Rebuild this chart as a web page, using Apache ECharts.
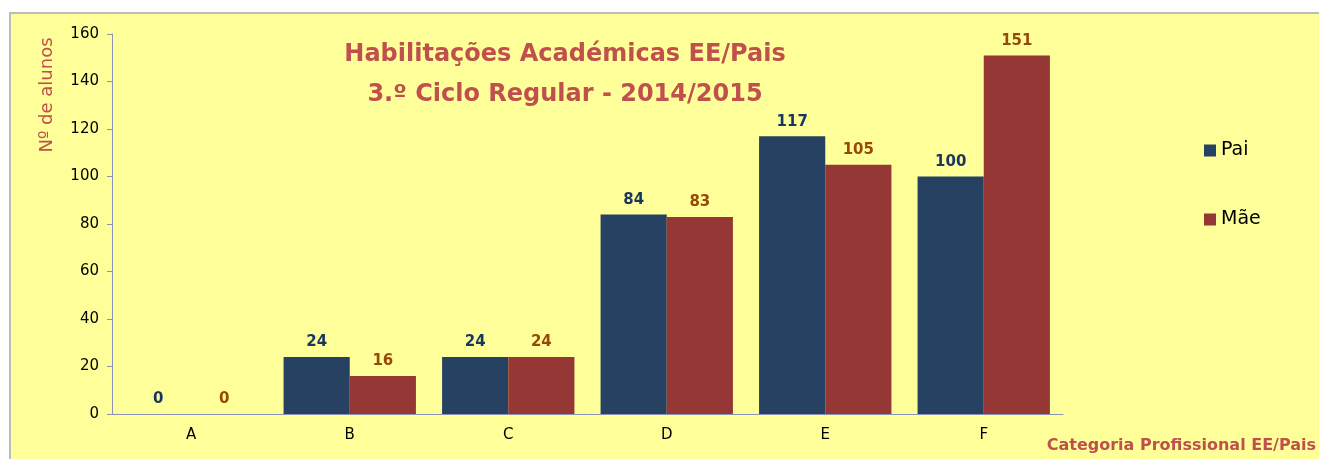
<!DOCTYPE html>
<html>
<head>
<meta charset="utf-8">
<script src="https://cdn.jsdelivr.net/npm/echarts@6/dist/echarts.min.js"></script>
<style>
  html, body { margin: 0; padding: 0; background: #fff; }
  #chart { width: 1319px; height: 459px; }
</style>
</head>
<body>
<div id="chart"></div>
<script>
const categories = ['A', 'B', 'C', 'D', 'E', 'F']
const paiValues = [0, 24, 24, 84, 117, 100]
const maeValues = [0, 16, 24, 83, 105, 151]
const seriesNames = ['Pai', 'Mãe']

const font = 'Tahoma, "DejaVu Sans", sans-serif'
const red = '#c0504d'

const chart = echarts.init(document.getElementById('chart'))
chart.setOption({
  backgroundColor: '#fff',
  textStyle: { fontFamily: font },
  graphic: [
    {
      type: 'rect',
      z: -10,
      shape: { x: 10, y: 13, width: 1320, height: 460 },
      style: { fill: '#ffff99', stroke: '#bcbcbc', lineWidth: 2 }
    },
    {
      // y axis title sits near the top, not centred on the axis
      type: 'text',
      x: 47,
      y: 95,
      rotation: Math.PI / 2,
      style: {
        text: 'Nº de alunos',
        fill: red,
        font: '18px ' + font,
        align: 'center',
        verticalAlign: 'middle'
      }
    }
  ],
  title: {
    text: 'Habilitações Académicas EE/Pais\n3.º Ciclo Regular - 2014/2015',
    left: 560,
    top: 30,
    textAlign: 'center',
    textStyle: {
      color: red,
      fontSize: 24,
      fontWeight: 'bold',
      lineHeight: 40,
      fontFamily: font
    }
  },
  legend: {
    orient: 'vertical',
    left: 1199,
    top: 136,
    itemWidth: 12,
    itemHeight: 12,
    itemGap: 50,
    icon: 'rect',
    data: seriesNames,
    textStyle: { fontSize: 19, color: '#000', fontFamily: font }
  },
  grid: { left: 112, right: 256, top: 34, bottom: 45 },
  xAxis: {
    type: 'category',
    data: categories,
    name: 'Categoria Profissional EE/Pais',
    nameLocation: 'end',
    nameGap: 0,
    nameTextStyle: {
      color: red,
      fontSize: 16,
      fontWeight: 'bold',
      align: 'right',
      verticalAlign: 'top',
      padding: [24, -253, 0, 0]
    },
    axisLine: { lineStyle: { color: '#8c93b2', width: 1 } },
    axisTick: { length: 5, lineStyle: { color: '#8c93b2' } },
    axisLabel: { color: '#000', fontSize: 15, margin: 14 }
  },
  yAxis: {
    type: 'value',
    min: 0,
    max: 160,
    interval: 20,
    axisLine: { show: true, lineStyle: { color: '#8c93b2', width: 1 } },
    axisTick: { show: true, length: 5, lineStyle: { color: '#8c93b2' } },
    splitLine: { show: false },
    axisLabel: { color: '#000', fontSize: 15, margin: 13 }
  },
  series: [
    {
      name: seriesNames[0],
      type: 'bar',
      data: paiValues,
      barGap: '0%',
      barCategoryGap: '16.5%',
      itemStyle: { color: '#264161' },
      label: {
        show: true,
        position: 'top',
        distance: 7,
        color: '#17375e',
        fontWeight: 'bold',
        fontSize: 15
      }
    },
    {
      name: seriesNames[1],
      type: 'bar',
      data: maeValues,
      barGap: '0%',
      barCategoryGap: '16.5%',
      itemStyle: { color: '#953735' },
      label: {
        show: true,
        position: 'top',
        distance: 7,
        color: '#984807',
        fontWeight: 'bold',
        fontSize: 15
      }
    }
  ]
})
</script>
</body>
</html>
